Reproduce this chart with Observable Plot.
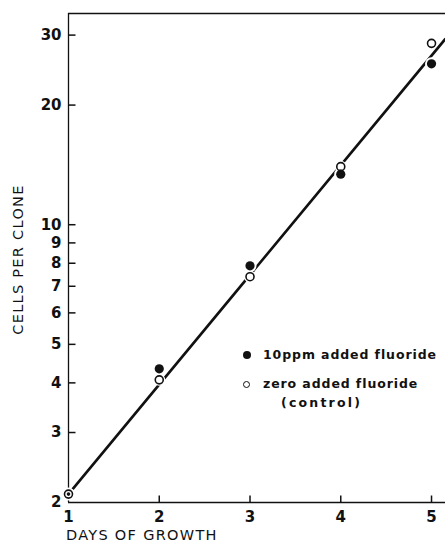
<!DOCTYPE html>
<html>
<head>
<meta charset="utf-8">
<script src="https://cdn.jsdelivr.net/npm/d3@7"></script>
<script src="https://cdn.jsdelivr.net/npm/@observablehq/plot@0.6"></script>
<style>
  html, body { margin: 0; padding: 0; background: #fff; }
  #wrap { position: relative; width: 445px; height: 543px; overflow: hidden; font-family: "DejaVu Sans", sans-serif; }
  #chart svg { display: block; }
  .lg { position: absolute; font-family: "DejaVu Sans", sans-serif; font-weight: bold; font-size: 12.5px; color: #111; white-space: nowrap; letter-spacing: 0.9px; line-height: 16px; }
  .ttl { position: absolute; font-family: "DejaVu Sans", sans-serif; font-size: 14.5px; color: #111; white-space: nowrap; letter-spacing: 1.3px; line-height: 15px; }
  .sw { position: absolute; border-radius: 50%; box-sizing: border-box; }
</style>
</head>
<body>
<div id="wrap">
  <div id="chart"></div>
</div>
<script>
// ---- data ----
const days = [1, 2, 3, 4, 5];
const fluoride10 = [2.1, 4.34, 7.88, 13.4, 25.4];   // filled dots
const control = [2.1, 4.07, 7.4, 14.0, 28.6];       // open dots
const fitDays = [1, 5.15];
const fitCells = [2.1, 29.3];
const xTicks = [1, 2, 3, 4, 5];
const yTicks = [2, 3, 4, 5, 6, 7, 8, 9, 10, 20, 30];
const yTickLabels = ["2", "3", "4", "5", "6", "7", "8", "9", "10", "20", "30"];
const xDomain = [1, 5.154];
const yDomain = [2, 34];
const legendLabels = ["10ppm added fluoride", "zero added fluoride", "(control)"];
const xLabel = "DAYS OF GROWTH";
const yLabel = "CELLS PER CLONE";

const filled = days.map((d, i) => ({day: d, cells: fluoride10[i]}));
const open = days.map((d, i) => ({day: d, cells: control[i]}));
const fit = fitDays.map((d, i) => ({day: d, cells: fitCells[i]}));

const W = 445, H = 543, ML = 68, MR = 0, MT = 13, MB = 41, TICK = 7;
const font = "DejaVu Sans, sans-serif";
// tick length converted into scale units
const yTickEndX = xDomain[0] + TICK * (xDomain[1] - xDomain[0]) / (W - ML - MR);
const xTickEndY = yDomain[0] * Math.pow(yDomain[1] / yDomain[0], TICK / (H - MT - MB));

const chart = Plot.plot({
  width: W,
  height: H,
  marginLeft: ML,
  marginRight: MR,
  marginTop: MT,
  marginBottom: MB,
  style: {fontFamily: font, background: "white", color: "#111", overflow: "visible"},
  x: {domain: xDomain, axis: null},
  y: {type: "log", domain: yDomain, axis: null},
  r: {type: "identity"},
  marks: [
    // frame (left, bottom, top)
    Plot.ruleX([xDomain[0]], {stroke: "#111", strokeWidth: 1.3}),
    Plot.ruleY([yDomain[0], yDomain[1]], {stroke: "#111", strokeWidth: 1.3}),
    // tick labels
    Plot.axisY({ticks: yTicks, tickSize: 0, tickPadding: 7, tickFormat: (d) => yTickLabels[yTicks.indexOf(d)], fontSize: 15, fontWeight: "bold", label: null}),
    Plot.axisX({ticks: xTicks, tickSize: 0, tickPadding: 9, tickFormat: (d) => String(d), fontSize: 15, fontWeight: "bold", label: null}),
    // fitted line
    Plot.line(fit, {x: "day", y: "cells", stroke: "#111", strokeWidth: 2.6}),
    // white halos
    Plot.dot(filled, {x: "day", y: "cells", r: 6.5, fill: "white"}),
    Plot.dot(open, {x: "day", y: "cells", r: 6, fill: "white"}),
    // points
    Plot.dot(open, {x: "day", y: "cells", r: 4, fill: "white", stroke: "#111", strokeWidth: 1.6}),
    Plot.dot(filled, {x: "day", y: "cells", r: (d) => d.day === 1 ? 1.8 : 4.6, fill: "#111"}),
    // inward ticks
    Plot.link(yTicks.slice(1), {x1: () => xDomain[0], x2: () => yTickEndX, y1: (d) => d, y2: (d) => d, stroke: "#111", strokeWidth: 1.5}),
    Plot.link(xTicks.slice(1), {x1: (d) => d, x2: (d) => d, y1: () => yDomain[0], y2: () => xTickEndY, stroke: "#111", strokeWidth: 1.5})
  ]
});
document.getElementById("chart").appendChild(chart);

// overlays: axis titles and legend
const wrap = document.getElementById("wrap");
function addSwatch(left, top, r, isFilled) {
  const s = document.createElement("div");
  s.className = "sw";
  s.style.left = (left - r) + "px";
  s.style.top = (top - r) + "px";
  s.style.width = (2 * r) + "px";
  s.style.height = (2 * r) + "px";
  s.style.background = isFilled ? "#111" : "#fff";
  if (!isFilled) s.style.border = "1.5px solid #111";
  wrap.appendChild(s);
}
function addText(cls, left, top, txt) {
  const t = document.createElement("div");
  t.className = cls;
  t.style.left = left + "px";
  t.style.top = top + "px";
  t.textContent = txt;
  wrap.appendChild(t);
  return t;
}
addSwatch(247, 355, 4.2, true);
addText("lg", 263, 347, legendLabels[0]);
addSwatch(246, 384, 3.5, false);
addText("lg", 263, 376, legendLabels[1]);
const ctl = addText("lg", 281, 395, legendLabels[2]);
ctl.style.letterSpacing = "2.2px";

addText("ttl", 66, 528, xLabel);
const yl = addText("ttl", 0, 0, yLabel);
const w = yl.offsetWidth, h = yl.offsetHeight;
yl.style.left = (18 - w / 2) + "px";
yl.style.top = (259 - h / 2) + "px";
yl.style.transform = "rotate(-90deg)";
</script>
</body>
</html>
